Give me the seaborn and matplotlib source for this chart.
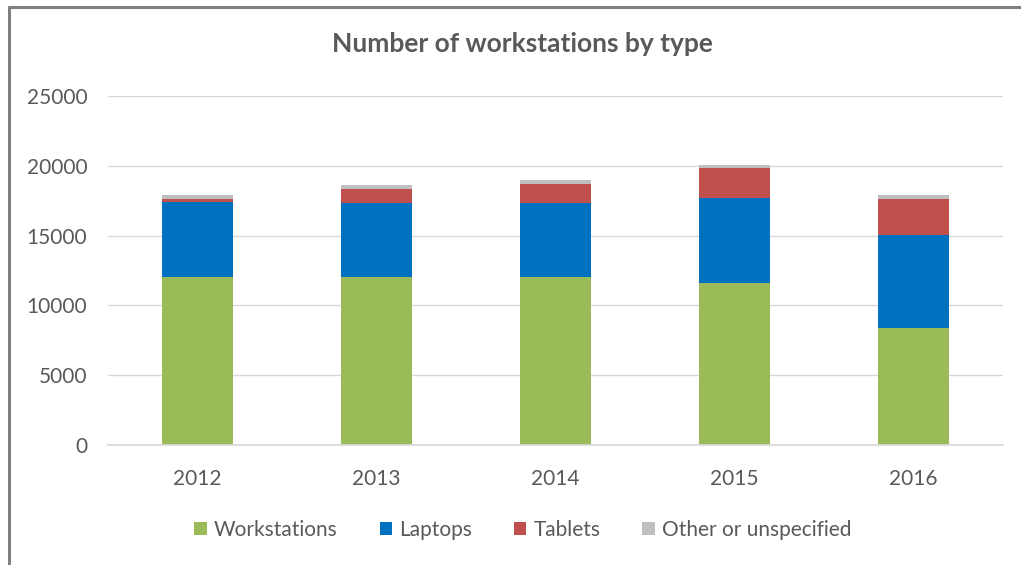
import numpy as np
import pandas as pd
import seaborn as sns
import matplotlib.pyplot as plt
from matplotlib.lines import Line2D
from matplotlib.patches import Patch

years = ["2012", "2013", "2014", "2015", "2016"]
workstations = [12000, 12000, 12000, 11640, 8370]
laptops = [5430, 5350, 5360, 6050, 6650]
tablets = [170, 1000, 1360, 2130, 2590]
other = [290, 290, 260, 270, 290]

series = ["Workstations", "Laptops", "Tablets", "Other or unspecified"]
colors = ["#9BBB59", "#0070C0", "#C0504D", "#BFBFBF"]

df = pd.DataFrame({"year": years, "Workstations": workstations, "Laptops": laptops,
                   "Tablets": tablets, "Other or unspecified": other})
# cumulative tops for stacking (tallest drawn first)
cum = df[series].cumsum(axis=1)

sns.set_theme(style="white")
plt.rcParams["font.family"] = ["Lato", "DejaVu Sans"]
txt = "#595959"

fig = plt.figure(figsize=(10.21, 5.65), dpi=100)
ax = fig.add_axes([108 / 1021, 1 - 445 / 565, (1003 - 108) / 1021, (445 - 96) / 565])

for s, c in reversed(list(zip(series, colors))):
    sns.barplot(x=df["year"], y=cum[s], color=c, width=0.4, saturation=1,
                ax=ax, edgecolor="none")

ax.set_ylim(0, 25000)
ax.set_yticks(range(0, 25001, 5000))
ax.set_xlim(-0.5, 4.5)
ax.set_xlabel("")
ax.set_ylabel("")
ax.grid(axis="y", color="#D9D9D9", lw=1)
ax.set_axisbelow(True)
for sp in ["top", "right", "left"]:
    ax.spines[sp].set_visible(False)
ax.spines["bottom"].set_color("#D9D9D9")
ax.tick_params(axis="y", length=0, pad=15, labelsize=15, labelcolor=txt)
ax.tick_params(axis="x", length=0, pad=17, labelsize=15, labelcolor=txt)

fig.text(522 / 1021, 1 - 44 / 565, "Number of workstations by type", ha="center",
         va="center", fontsize=19, fontweight="bold", color=txt)

handles = [Patch(facecolor=c, edgecolor="none") for c in colors]
fig.legend(handles, series, loc="center", bbox_to_anchor=(523 / 1021, 1 - 530 / 565),
           ncol=4, frameon=False, fontsize=15, labelcolor=txt, handlelength=0.6,
           handleheight=0.6, handletextpad=0.35, columnspacing=2.0)

# outer frame (top and left visible)
fig.add_artist(Line2D([9 / 1021, 1], [1 - 7 / 565, 1 - 7 / 565], color="#808080", lw=2.2))
fig.add_artist(Line2D([9 / 1021, 9 / 1021], [0, 1 - 7 / 565], color="#808080", lw=2.2))

fig.savefig("out.png", dpi=100, facecolor="white")
